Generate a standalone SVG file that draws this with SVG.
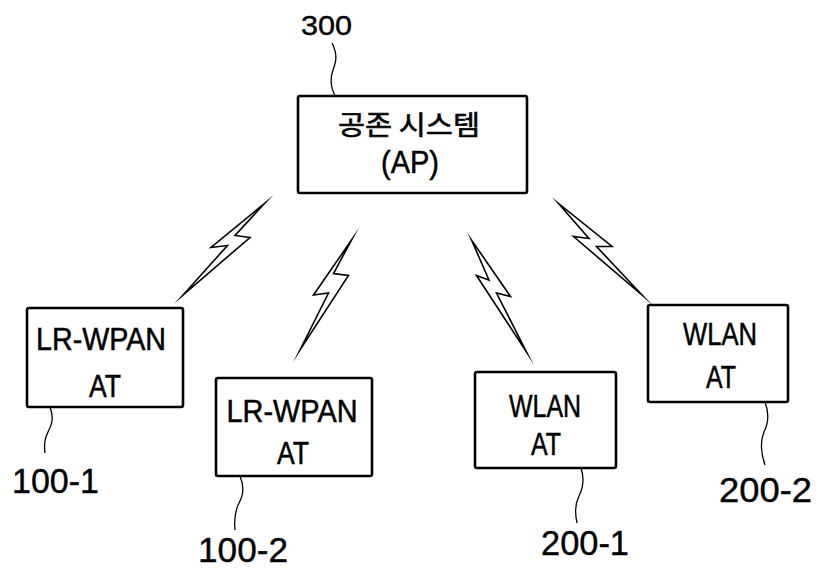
<svg xmlns="http://www.w3.org/2000/svg" width="824" height="574" viewBox="0 0 824 574">
<style>
.box{fill:#fff;stroke:#000;stroke-width:2.6;stroke-linejoin:round}
.t{font-family:"Liberation Sans","Noto Sans CJK KR",sans-serif;font-size:31px;fill:#000;stroke:#000;stroke-width:0.5;text-anchor:middle}
.k{font-family:"Noto Sans CJK KR","Liberation Sans",sans-serif;font-size:27px;fill:#000;stroke:#000;stroke-width:0.6;text-anchor:middle}
.lbl{font-family:"Liberation Sans",sans-serif;font-size:35px;fill:#000;stroke:#000;stroke-width:0.4}
.lead{fill:none;stroke:#000;stroke-width:1.3}
.bolt{fill:#fff;stroke:#000;stroke-width:1.6;stroke-linejoin:miter;stroke-miterlimit:20}
</style>
<rect width="824" height="574" fill="#fff"/>
<g id="connectors">
<polygon class="bolt" points="265,203 235,235.5 250,237.5 183,295 227.5,245.5 211,247.5"/>
<polygon class="bolt" points="351.5,240 333.5,273.5 348.5,275.5 300,350 328.5,293 313.5,295"/>
<polygon class="bolt" points="471.5,240 489,280 476.5,275.5 526.5,352 496.5,293 510.5,296.5"/>
<polygon class="bolt" points="558.5,203.5 589,238.5 573.5,236.5 642,295 596.5,246.5 612,246.5"/>
<path class="lead" d="M332,43 C338,55 336,62 333,70 C330,78 331,88 335,96"/>
<path class="lead" d="M50,407 C54,418 52,425 48,432 C44,440 44,447 45,453"/>
<path class="lead" d="M240,476 C245,488 243,496 239,503 C235,511 234,520 235,530"/>
<path class="lead" d="M581,468 C585,480 583,488 579,496 C575,504 575,514 577,523"/>
<path class="lead" d="M765,402 C770,415 768,424 764,432 C760,441 761,454 765,465"/>
</g>
<g id="node-300">
<rect class="box" x="298" y="96" width="229" height="97" rx="2"/>
<text class="k" x="409" y="135" textLength="142" lengthAdjust="spacingAndGlyphs">공존 시스템</text>
<text class="t" x="410" y="173" textLength="58" lengthAdjust="spacingAndGlyphs">(AP)</text>
<text class="lbl" x="301" y="35" style="font-size:28px" textLength="51" lengthAdjust="spacingAndGlyphs">300</text>
</g>
<g id="node-100-1">
<rect class="box" x="27" y="308" width="156" height="99" rx="2"/>
<text class="t" x="101" y="350" textLength="130" lengthAdjust="spacingAndGlyphs">LR-WPAN</text>
<text class="t" x="105" y="397" textLength="32" lengthAdjust="spacingAndGlyphs">AT</text>
<text class="lbl" x="12" y="493" textLength="87" lengthAdjust="spacingAndGlyphs">100-1</text>
</g>
<g id="node-100-2">
<rect class="box" x="216" y="378" width="156" height="98" rx="2"/>
<text class="t" x="292" y="422" textLength="131" lengthAdjust="spacingAndGlyphs">LR-WPAN</text>
<text class="t" x="293" y="464" textLength="32" lengthAdjust="spacingAndGlyphs">AT</text>
<text class="lbl" x="198" y="562" textLength="90" lengthAdjust="spacingAndGlyphs">100-2</text>
</g>
<g id="node-200-1">
<rect class="box" x="475" y="372" width="141" height="96" rx="2"/>
<text class="t" x="545" y="417" textLength="72" lengthAdjust="spacingAndGlyphs">WLAN</text>
<text class="t" x="546" y="455" textLength="30" lengthAdjust="spacingAndGlyphs">AT</text>
<text class="lbl" x="541" y="555" textLength="88" lengthAdjust="spacingAndGlyphs">200-1</text>
</g>
<g id="node-200-2">
<rect class="box" x="648" y="305" width="140" height="97" rx="2"/>
<text class="t" x="720" y="345" textLength="74" lengthAdjust="spacingAndGlyphs">WLAN</text>
<text class="t" x="721" y="388" textLength="30" lengthAdjust="spacingAndGlyphs">AT</text>
<text class="lbl" x="719" y="502" textLength="93" lengthAdjust="spacingAndGlyphs">200-2</text>
</g>
</svg>
